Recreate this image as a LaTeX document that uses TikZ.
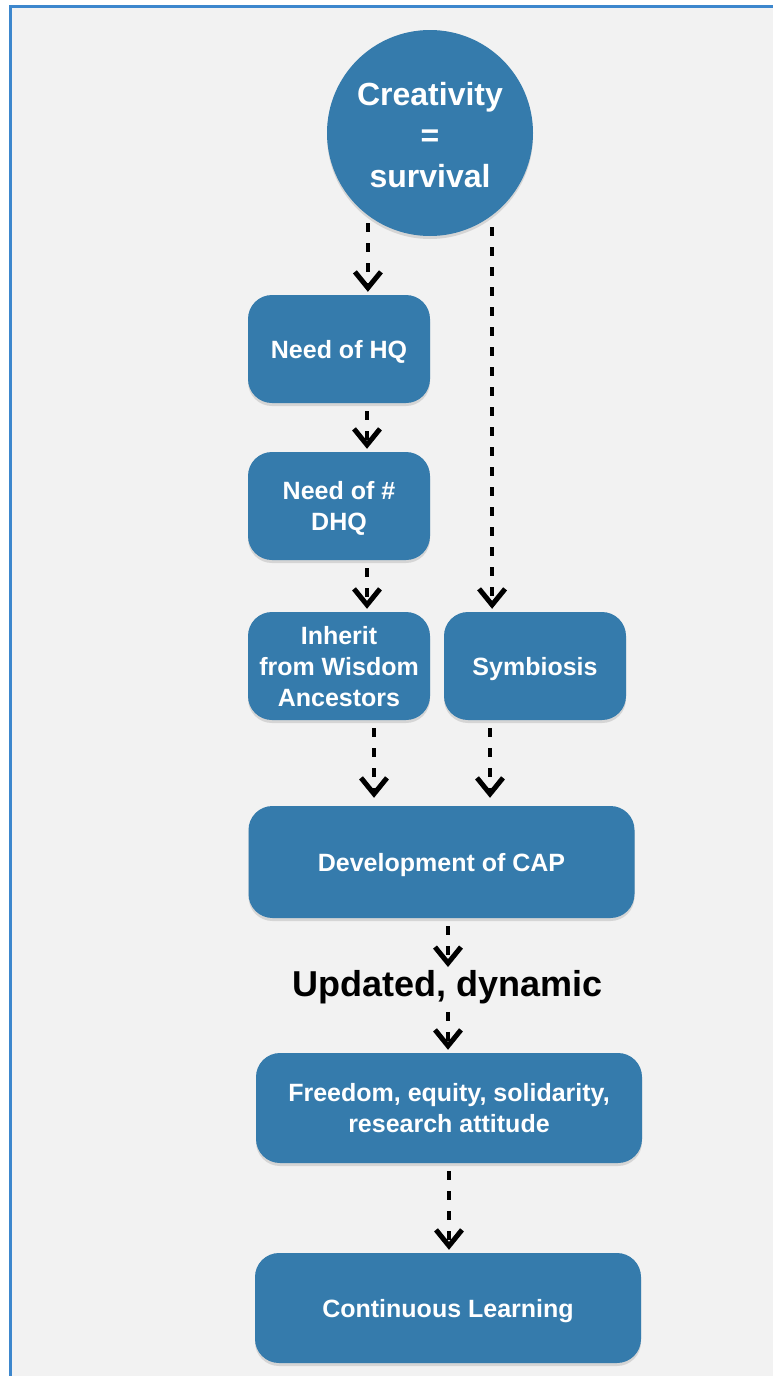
\documentclass[tikz,border=0pt]{standalone}
\usepackage{fontspec}
\setmainfont{Liberation Sans}
\usetikzlibrary{arrows.meta, shadows}
\definecolor{boxblue}{HTML}{357BAC}
\definecolor{frameblue}{HTML}{3D87CD}
\definecolor{paper}{HTML}{F2F2F2}
% text set a little lower than the box centre
\newcommand{\lowtext}[2][3pt]{\raisebox{-#1}[\height][\depth]{\begin{tabular}{@{}c@{}}#2\end{tabular}}}
\tikzset{
    stepbox/.style={rectangle, rounded corners=24pt, fill=boxblue, text=white, minimum width=182pt, minimum height=108pt, inner sep=2pt, font=\bfseries\fontsize{25}{31}\selectfont, drop shadow={shadow xshift=0pt, shadow yshift=-3pt, opacity=0.25}},
    widebox/.style={stepbox, minimum width=386pt, minimum height=110pt},
    startnode/.style={circle, fill=boxblue, text=white, minimum size=206pt, inner sep=0pt, font=\bfseries\fontsize{32}{40}\selectfont, drop shadow={shadow xshift=0pt, shadow yshift=-3pt, opacity=0.25}},
    plainlabel/.style={inner sep=0pt, font=\bfseries\fontsize{36}{40}\selectfont},
    flowarrow/.style={-{Straight Barb[length=16pt,width=26pt,line width=5pt]}, line width=4pt, dash pattern=on 9pt off 11pt, shorten <=8pt, shorten >=3pt}
}

\begin{document}
\begin{tikzpicture}[x=1pt, y=-1pt]
    \useasboundingbox (0,0) rectangle (773,1376);
    \fill[paper] (10,6) rectangle (773,1376);
    \draw[frameblue, line width=3pt] (10,1376) -- (10,6) -- (773,6);

    \node[startnode] (crea) at (430,133) {\lowtext[5pt]{Creativity\\[1pt]=\\[1pt]survival}};
    \node[stepbox] (hq) at (339,349) {\lowtext{Need of HQ}};
    \node[stepbox] (dhq) at (339,506) {\lowtext{Need of \#\\DHQ}};
    \node[stepbox] (inh) at (339,666) {\lowtext{Inherit\\from Wisdom\\Ancestors}};
    \node[stepbox] (sym) at (535,666) {\lowtext{Symbiosis}};
    \node[widebox, minimum height=112pt] (cap) at (441.5,862) {\lowtext{Development of CAP}};
    \node[plainlabel] (upd) at (448,987) {Updated, dynamic};
    \node[widebox] (free) at (449,1108) {\lowtext{Freedom, equity, solidarity,\\research attitude}};
    \node[widebox] (learn) at (448,1308) {\lowtext{Continuous Learning}};

    % Left branch
    \draw[flowarrow] (crea.233) -- (crea.233 |- hq.north);
    \draw[flowarrow] ([xshift=28pt]hq.south) -- ([xshift=28pt]dhq.north);
    \draw[flowarrow] ([xshift=28pt]dhq.south) -- ([xshift=28pt]inh.north);
    \draw[flowarrow, shorten >=8pt] ([xshift=35pt]inh.south) -- ([xshift=35pt]inh.south |- cap.north);

    % Right branch
    \draw[flowarrow, shorten <=12pt] (crea.307) -- (crea.307 |- sym.north);
    \draw[flowarrow, shorten >=8pt] ([xshift=-45pt]sym.south) -- ([xshift=-45pt]sym.south |- cap.north);

    % Main line
    \draw[flowarrow] (upd.north |- cap.south) -- (upd.north);
    \draw[flowarrow] (upd.south) -- (upd.south |- free.north);
    \draw[flowarrow] (free.south) -- (free.south |- learn.north);
\end{tikzpicture}
\end{document}
